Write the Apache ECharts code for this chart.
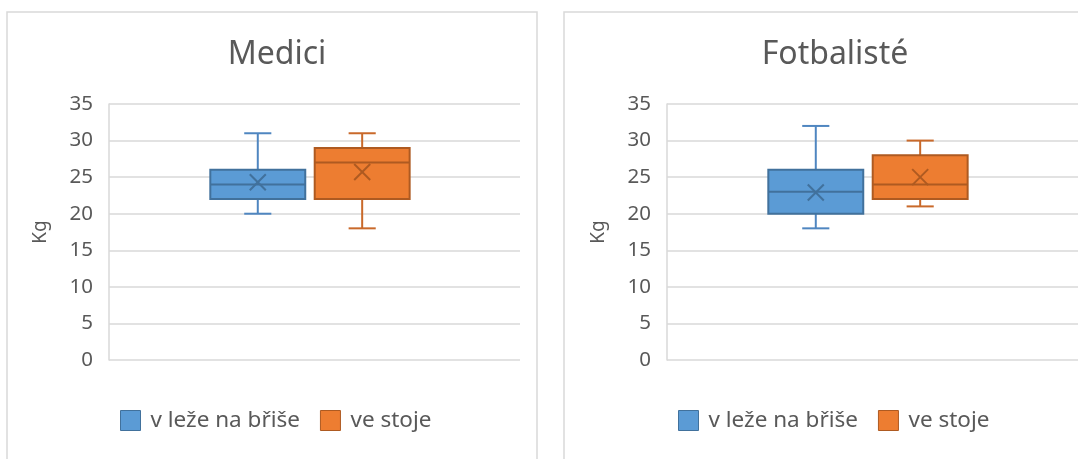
<!DOCTYPE html>
<html>
<head>
<meta charset="utf-8">
<style>
  html, body { margin: 0; padding: 0; background: #ffffff; }
  #chart { width: 1078px; height: 459px; }
</style>
<script src="https://cdn.jsdelivr.net/npm/echarts@6/dist/echarts.min.js"></script>
</head>
<body>
<div id="chart"></div>
<script>
// Panel titles (one box-plot panel per group)
const groups = ['Medici', 'Fotbalisté'];
// Measurement positions (legend entries)
const positions = ['v leže na břiše', 've stoje'];
// Five-number summaries: [min, Q1, median, Q3, max]
const mediciLeze = [20, 22, 24, 26, 31];
const mediciStoje = [18, 22, 27, 29, 31];
const fotbalisteLeze = [18, 20, 23, 26, 32];
const fotbalisteStoje = [21, 22, 24, 28, 30];
// Means (drawn as X markers)
const mediciMeans = [24.3, 25.7];
const fotbalisteMeans = [22.9, 25.0];
// Value axis ticks
const yTicks = [0, 5, 10, 15, 20, 25, 30, 35];

const summaries = [[mediciLeze, mediciStoje], [fotbalisteLeze, fotbalisteStoje]];
const means = [mediciMeans, fotbalisteMeans];

const FILL = ['#5B9BD5', '#ED7D31'];
const EDGE = ['#41719C', '#AE5A21'];
const WHISK = ['#4F86C0', '#C9692A'];
const TEXT = '#595959';
const GRID = '#d9d9d9';
const FONT = '"Noto Sans", "Open Sans", sans-serif';

// horizontal placement of each box inside the category band
const boxOffset = [-0.138, 0.116];
const boxFrac = 0.231;
const capFrac = 0.066;

const PANEL_SHIFT = 558;

function renderBox(params, api) {
  const k = params.seriesIndex % 2;
  const band = api.size([1, 0])[0];
  const cx = api.coord([api.value(0), 0])[0] + boxOffset[k] * band;
  const hw = band * boxFrac / 2;
  const cw = band * capFrac / 2;
  const y = (i) => api.coord([0, api.value(i)])[1];
  const yMin = y(1), yQ1 = y(2), yMed = y(3), yQ3 = y(4), yMax = y(5), yMean = y(6);
  const ws = { stroke: WHISK[k], lineWidth: 2 };
  const es = { stroke: EDGE[k], lineWidth: 2 };
  const m = 8;
  return {
    type: 'group',
    children: [
      { type: 'line', shape: { x1: cx, y1: yMax, x2: cx, y2: yQ3 }, style: ws },
      { type: 'line', shape: { x1: cx, y1: yQ1, x2: cx, y2: yMin }, style: ws },
      { type: 'line', shape: { x1: cx - cw, y1: yMax, x2: cx + cw, y2: yMax }, style: ws },
      { type: 'line', shape: { x1: cx - cw, y1: yMin, x2: cx + cw, y2: yMin }, style: ws },
      { type: 'rect', shape: { x: cx - hw, y: yQ3, width: hw * 2, height: yQ1 - yQ3 },
        style: { fill: FILL[k], stroke: EDGE[k], lineWidth: 2 } },
      { type: 'line', shape: { x1: cx - hw, y1: yMed, x2: cx + hw, y2: yMed }, style: es },
      { type: 'line', shape: { x1: cx - m, y1: yMean - m, x2: cx + m, y2: yMean + m }, style: es },
      { type: 'line', shape: { x1: cx - m, y1: yMean + m, x2: cx + m, y2: yMean - m }, style: es }
    ]
  };
}

const grids = [], xAxes = [], yAxes = [], titles = [], legends = [], series = [];
groups.forEach((g, p) => {
  const dx = p * PANEL_SHIFT;
  grids.push({ left: 109 + dx, top: 104, width: 411, height: 256 });
  xAxes.push({ gridIndex: p, type: 'category', data: [''], show: false });
  yAxes.push({
    gridIndex: p, type: 'value', min: yTicks[0], max: yTicks[yTicks.length - 1], interval: 5,
    name: 'Kg', nameLocation: 'middle', nameGap: 59,
    nameTextStyle: { color: TEXT, fontSize: 19, fontFamily: FONT },
    axisLine: { show: true, lineStyle: { color: GRID, width: 1.5 } },
    axisTick: { show: false },
    axisLabel: { color: TEXT, fontSize: 20.5, fontFamily: FONT, margin: 16 },
    splitLine: { lineStyle: { color: GRID, width: 1.5 } }
  });
  titles.push({
    text: g, left: 272 + dx, top: 34, textAlign: 'center',
    textStyle: { color: TEXT, fontSize: 32, fontWeight: 'normal', fontFamily: FONT }
  });
  legends.push({
    left: 115 + dx, top: 404, orient: 'horizontal',
    itemWidth: 20, itemHeight: 20, itemGap: 20, icon: 'rect', selectedMode: false,
    textStyle: { color: TEXT, fontSize: 22.5, fontFamily: FONT, padding: [0, 0, 0, 5] },
    data: positions.map((n, k) => ({
      name: n, itemStyle: { color: FILL[k], borderColor: EDGE[k], borderWidth: 1 }
    }))
  });
  positions.forEach((n, k) => {
    const s = summaries[p][k];
    series.push({
      name: n, type: 'custom', xAxisIndex: p, yAxisIndex: p,
      itemStyle: { color: FILL[k] },
      encode: { x: 0, y: [1, 2, 3, 4, 5, 6] },
      data: [[0, s[0], s[1], s[2], s[3], s[4], means[p][k]]],
      renderItem: renderBox
    });
  });
});

const chart = echarts.init(document.getElementById('chart'), null, { renderer: 'canvas' });
chart.setOption({
  animation: false,
  backgroundColor: '#ffffff',
  title: titles,
  legend: legends,
  grid: grids,
  xAxis: xAxes,
  yAxis: yAxes,
  series: series,
  graphic: [
    { type: 'rect', shape: { x: 7, y: 12, width: 530, height: 460 },
      style: { fill: 'none', stroke: GRID, lineWidth: 1.5 }, silent: true, z: -1 },
    { type: 'rect', shape: { x: 564, y: 12, width: 530, height: 460 },
      style: { fill: 'none', stroke: GRID, lineWidth: 1.5 }, silent: true, z: -1 }
  ]
});
</script>
</body>
</html>
